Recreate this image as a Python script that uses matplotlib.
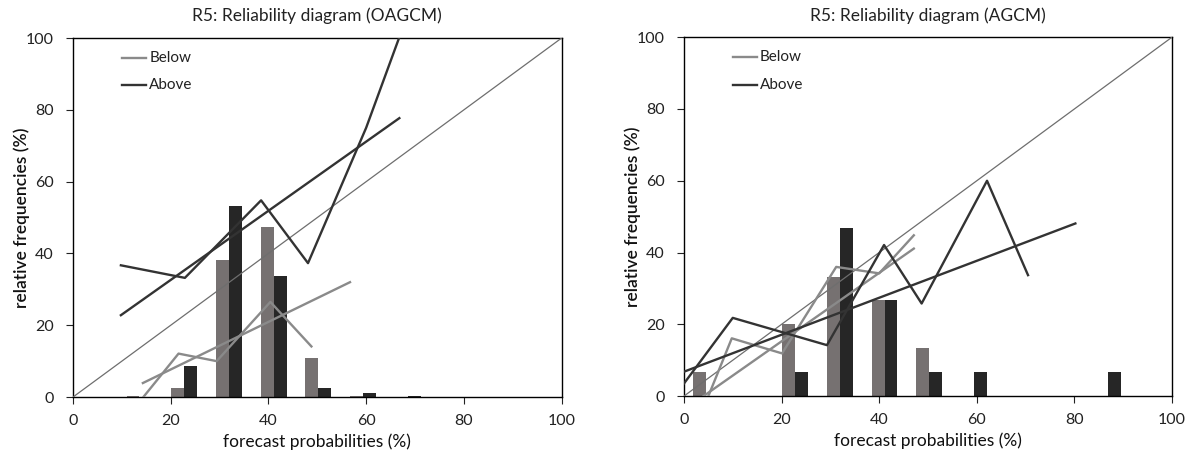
import matplotlib.pyplot as plt

plt.rcParams['font.family'] = ['Lato', 'DejaVu Sans']

# bin centres (forecast probability, %)
bins = [4.5, 13.6, 22.8, 31.9, 41.1, 50.2, 59.4, 68.5, 77.7, 86.8, 96.0]

# ---- OAGCM panel ----
oa_below_hist = [0.0, 0.3, 2.5, 38.1, 47.4, 11.0, 0.3, 0.0, 0.0, 0.0, 0.0]
oa_above_hist = [0.0, 0.0, 8.6, 53.3, 33.7, 2.5, 1.1, 0.3, 0.0, 0.0, 0.0]
oa_below_x = [14.4, 21.6, 29.4, 40.4, 48.8]
oa_below_y = [0.0, 12.1, 10.0, 26.5, 14.1]
oa_below_fit_x = [14.3, 56.7]
oa_below_fit_y = [3.9, 32.0]
oa_above_x = [9.8, 22.9, 38.5, 48.1, 60.0, 67.0]
oa_above_y = [36.7, 33.2, 54.8, 37.3, 75.0, 101.0]
oa_above_fit_x = [9.8, 66.8]
oa_above_fit_y = [22.8, 77.7]

# ---- AGCM panel ----
a_below_hist = [6.7, 0.0, 20.0, 33.3, 26.7, 13.3, 0.0, 0.0, 0.0, 0.0, 0.0]
a_above_hist = [0.0, 0.0, 6.7, 46.7, 26.7, 6.7, 6.7, 0.0, 0.0, 6.7, 0.0]
a_below_x = [5.0, 9.8, 20.1, 31.2, 40.0, 47.1]
a_below_y = [0.0, 16.1, 11.9, 36.0, 34.2, 44.8]
a_below_fit_x = [4.0, 47.1]
a_below_fit_y = [0.0, 41.1]
a_above_x = [0.0, 10.0, 29.3, 41.0, 48.7, 62.1, 70.5]
a_above_y = [3.5, 21.8, 14.2, 42.1, 25.8, 60.0, 33.7]
a_above_fit_x = [0.0, 80.2]
a_above_fit_y = [6.8, 48.1]

panels = [
    ("R5: Reliability diagram (OAGCM)", oa_below_hist, oa_above_hist,
     oa_below_x, oa_below_y, oa_below_fit_x, oa_below_fit_y,
     oa_above_x, oa_above_y, oa_above_fit_x, oa_above_fit_y),
    ("R5: Reliability diagram (AGCM)", a_below_hist, a_above_hist,
     a_below_x, a_below_y, a_below_fit_x, a_below_fit_y,
     a_above_x, a_above_y, a_above_fit_x, a_above_fit_y),
]

gray_bar = '#767171'
dark_bar = '#262626'
gray_line = '#8a8a8a'
dark_line = '#333333'
bw = 2.65

fig = plt.figure(figsize=(11.93, 4.59), dpi=100)
rects = [[0.0612, 0.135, 0.4095, 0.782], [0.5733, 0.137, 0.4091, 0.782]]

for rect, p in zip(rects, panels):
    (title, bh, ah, bx, by, bfx, bfy, ax_, ay_, afx, afy) = p
    ax = fig.add_axes(rect)
    ax.bar([c - bw / 2 for c in bins], bh, width=bw, color=gray_bar, zorder=2)
    ax.bar([c + bw / 2 for c in bins], ah, width=bw, color=dark_bar, zorder=2)
    ax.plot([0, 100], [0, 100], color='#6e6e6e', lw=0.9, zorder=3)
    ax.plot(bx, by, color=gray_line, lw=1.7, zorder=4)
    ax.plot(bfx, bfy, color=gray_line, lw=1.7, zorder=4)
    ax.plot(ax_, ay_, color=dark_line, lw=1.7, zorder=4)
    ax.plot(afx, afy, color=dark_line, lw=1.7, zorder=4)

    # legend drawn as short lines + text
    ax.plot([10, 15], [94.5, 94.5], color=gray_line, lw=1.7, zorder=4)
    ax.plot([10, 15], [86.8, 86.8], color=dark_line, lw=1.7, zorder=4)
    ax.text(15.6, 94.5, "Below", va='center', fontsize=11, color='#222222')
    ax.text(15.6, 86.8, "Above", va='center', fontsize=11, color='#222222')

    ax.set_xlim(0, 100)
    ax.set_ylim(0, 100)
    ax.set_xticks(range(0, 101, 20))
    ax.set_yticks(range(0, 101, 20))
    ax.tick_params(direction='out', length=5, width=0.8, labelsize=11.5,
                   colors='#222222', pad=7)
    ax.tick_params(axis='y', pad=9)
    for s in ax.spines.values():
        s.set_linewidth(1.0)
        s.set_color('black')
    ax.set_title(title, fontsize=12.5, color='#222222', pad=12)
    ax.set_xlabel("forecast probabilities (%)", fontsize=12.5, color='#111111',
                  labelpad=4)
    ax.set_ylabel("relative frequencies (%)", fontsize=12.5, color='#111111',
                  labelpad=-3, fontweight='semibold')

fig.savefig('out.png', dpi=100)
